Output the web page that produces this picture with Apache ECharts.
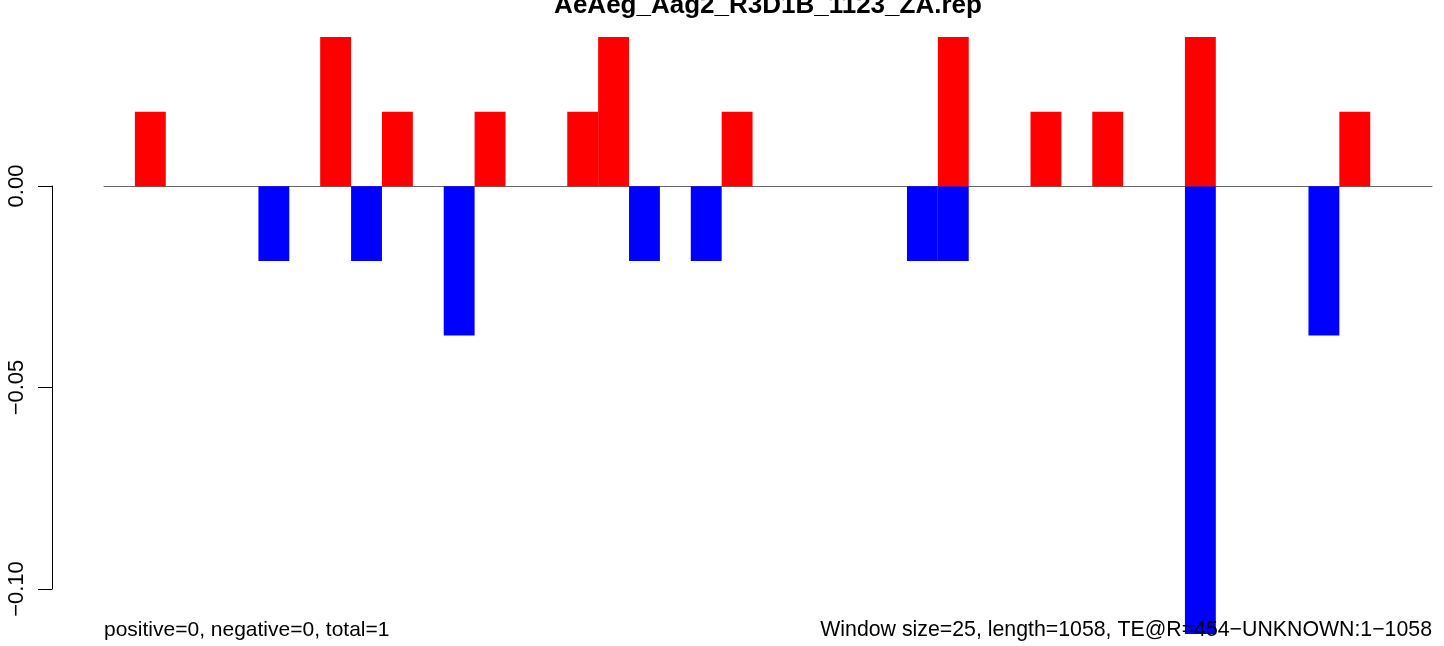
<!DOCTYPE html>
<html>
<head>
<meta charset="utf-8">
<script src="https://cdn.jsdelivr.net/npm/echarts@6/dist/echarts.min.js"></script>
<style>
html,body{margin:0;padding:0;background:#fff;}
#chart{width:1444px;height:646px;}
</style>
</head>
<body>
<div id="chart"></div>
<script>
// Window bins (window size 25 over length 1058)
const categories = ['1','2','3','4','5','6','7','8','9','10','11','12','13','14','15','16','17','18','19','20','21','22','23','24','25','26','27','28','29','30','31','32','33','34','35','36','37','38','39','40','41','42','43'];
// Positive-strand (red) values per window
const positiveValues = [0, 0.0185, 0, 0, 0, 0, 0, 0.037, 0, 0.0185, 0, 0, 0.0185, 0, 0, 0.0185, 0.037, 0, 0, 0, 0.0185, 0, 0, 0, 0, 0, 0, 0.037, 0, 0, 0.0185, 0, 0.0185, 0, 0, 0.037, 0, 0, 0, 0, 0.0185, 0, 0];
// Negative-strand (blue) values per window
const negativeValues = [0, 0, 0, 0, 0, -0.0185, 0, 0, -0.0185, 0, 0, -0.037, 0, 0, 0, 0, 0, -0.0185, 0, -0.0185, 0, 0, 0, 0, 0, 0, -0.0185, -0.0185, 0, 0, 0, 0, 0, 0, 0, -0.111, 0, 0, 0, -0.037, 0, 0, 0];
const yTicks = [-0.1, -0.05, 0];
const yTickLabels = ['\u22120.10', '\u22120.05', '0.00'];
const titleText = 'AeAeg_Aag2_R3D1B_1123_ZA.rep';
const leftNote = 'positive=0, negative=0, total=1';
const rightNote = 'Window size=25, length=1058, TE@R=454\u2212UNKNOWN:1\u22121058';

const FONT = '"Liberation Sans", Arial, Helvetica, sans-serif';
const chart = echarts.init(document.getElementById('chart'), null, {renderer: 'canvas'});

chart.setOption({
  animation: false,
  backgroundColor: '#ffffff',
  grid: [
    {left: 104, right: 12, top: 37, bottom: 12, containLabel: false},
    {left: 52, width: 10, top: 186, height: 403, containLabel: false}
  ],
  xAxis: [
    {
      type: 'category', gridIndex: 0, data: categories, boundaryGap: true,
      axisLine: {show: true, onZero: true, lineStyle: {color: '#666666', width: 1}},
      axisTick: {show: false}, axisLabel: {show: false}, splitLine: {show: false}
    },
    {
      type: 'value', gridIndex: 1, show: false
    }
  ],
  yAxis: [
    {
      type: 'value', gridIndex: 0, min: -0.111, max: 0.037, show: false
    },
    {
      type: 'value', gridIndex: 1, min: yTicks[0], max: yTicks[2], interval: 0.05,
      axisLine: {show: true, lineStyle: {color: '#000', width: 1}},
      axisTick: {show: true, length: 14, lineStyle: {color: '#000', width: 1}},
      splitLine: {show: false},
      axisLabel: {
        show: true, rotate: 90, margin: 24, color: '#000',
        fontFamily: FONT, fontSize: 22,
        formatter: function (v) {
          const i = yTicks.findIndex(t => Math.abs(t - v) < 1e-9);
          return i >= 0 ? yTickLabels[i] : '';
        }
      }
    }
  ],
  series: [
    {
      type: 'bar', name: 'negative', xAxisIndex: 0, yAxisIndex: 0,
      data: negativeValues, barWidth: '100%', barGap: '-100%',
      itemStyle: {color: '#0000ff'}, z: 2
    },
    {
      type: 'bar', name: 'positive', xAxisIndex: 0, yAxisIndex: 0,
      data: positiveValues, barWidth: '100%', barGap: '-100%',
      itemStyle: {color: '#ff0000'}, z: 3
    }
  ],
  graphic: [
    {
      type: 'text', x: 768, y: 6, z: 10,
      style: {text: titleText, fontFamily: FONT, fontWeight: 'bold', fontSize: 26, fill: '#000', align: 'center', verticalAlign: 'middle'}
    },
    {
      type: 'text', x: 104, y: 630, z: 10,
      style: {text: leftNote, fontFamily: FONT, fontSize: 21, fill: '#000', align: 'left', verticalAlign: 'middle'}
    },
    {
      type: 'text', x: 1432, y: 630, z: 10,
      style: {text: rightNote, fontFamily: FONT, fontSize: 21.3, fill: '#000', align: 'right', verticalAlign: 'middle'}
    }
  ]
});
</script>
</body>
</html>
